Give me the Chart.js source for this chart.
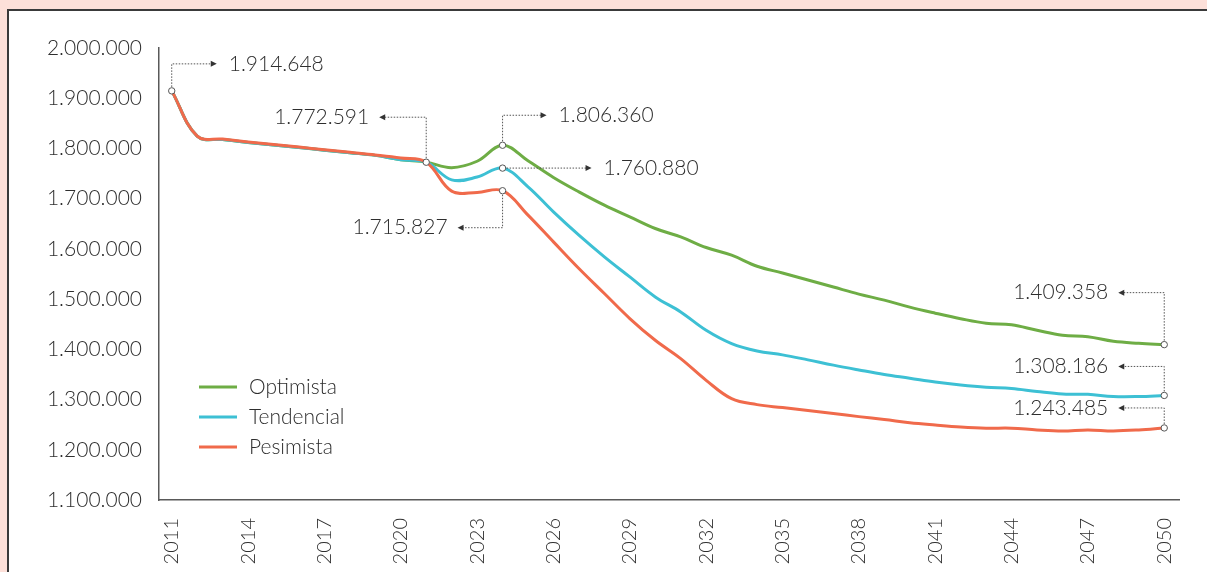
<!DOCTYPE html>
<html>
<head>
<meta charset="utf-8">
<script src="https://cdn.jsdelivr.net/npm/chart.js@4"></script>
<style>
  html, body { margin: 0; padding: 0; background: #fde0d9; overflow: hidden; }
  #panel { position: absolute; left: 7px; top: 9px; width: 1300px; height: 700px;
           background: #ffffff; border-left: 2px solid #3a3a3a; border-top: 2px solid #3a3a3a; }
  #wrap { position: absolute; left: 0; top: 0; width: 1207px; height: 572px; }
</style>
</head>
<body>
<div id="panel"></div>
<div id="wrap"><canvas id="c" width="1207" height="572"></canvas></div>
<script>
const years = [2011,2012,2013,2014,2015,2016,2017,2018,2019,2020,
               2021,2022,2023,2024,2025,2026,2027,2028,2029,2030,
               2031,2032,2033,2034,2035,2036,2037,2038,2039,2040,
               2041,2042,2043,2044,2045,2046,2047,2048,2049,2050];

const optimista = [1914648,1824600,1817600,1812000,1807000,1801800,1796600,1791400,1786200,1777500,
                   1772591,1761800,1774500,1806360,1775400,1742300,1713600,1687100,1663800,1640600,
                   1623900,1602800,1587400,1565500,1552000,1538000,1524000,1510000,1498000,1484000,
                   1472000,1461000,1452000,1449000,1438000,1428000,1425000,1416000,1412000,1409358];

const tendencial = [1914648,1824600,1817600,1812000,1807000,1801800,1796600,1791400,1786200,1777500,
                    1772591,1737500,1743000,1760880,1723600,1673700,1627300,1584100,1544200,1504400,
                    1474500,1438000,1411500,1396700,1389000,1379000,1368500,1359000,1350000,1342600,
                    1335000,1329000,1324500,1322000,1316000,1311000,1310500,1306000,1306000,1308186];

const pesimista = [1914648,1824600,1818600,1813000,1807900,1802700,1797500,1792300,1787100,1781000,
                   1772591,1715000,1712500,1715827,1667200,1613900,1560900,1511100,1461300,1418000,
                   1381500,1338300,1301800,1289900,1284000,1278000,1272300,1266000,1260400,1254000,
                   1249400,1245400,1243000,1243000,1239500,1237500,1239500,1237500,1239500,1243485];

const seriesNames = ['Optimista', 'Tendencial', 'Pesimista'];
const yTicks = [1100000,1200000,1300000,1400000,1500000,1600000,1700000,1800000,1900000,2000000];
const xTickYears = [2011,2014,2017,2020,2023,2026,2029,2032,2035,2038,2041,2044,2047,2050];

const FONT = "Lato, 'Liberation Sans', sans-serif";
const TXT = '#2e2e2e';
const W = 300;

function fmt(v) {
  return String(Math.round(v)).replace(/\B(?=(\d{3})+(?!\d))/g, '.');
}

function toXY(arr) { return arr.map((v, i) => ({ x: years[i], y: v })); }

const marked = {
  0: [2024, 2050],
  1: [2024, 2050],
  2: [2011, 2021, 2024, 2050]
};

const callouts = [
  { ds: 2, year: 2011, dy: -27, dx: 45, side: 'right' },
  { ds: 2, year: 2021, dy: -45, dx: -47, side: 'left' },
  { ds: 0, year: 2024, dy: -30, dx: 44, side: 'right' },
  { ds: 1, year: 2024, dy: 0, dx: 89, side: 'right' },
  { ds: 2, year: 2024, dy: 37, dx: -45, side: 'left' },
  { ds: 0, year: 2050, dy: -52, dx: -46, side: 'left' },
  { ds: 1, year: 2050, dy: -29, dx: -46, side: 'left' },
  { ds: 2, year: 2050, dy: -20, dx: -46, side: 'left' }
];

const calloutPlugin = {
  id: 'callouts',
  afterDatasetsDraw(chart) {
    const ctx = chart.ctx;
    const xs = chart.scales.x, ys = chart.scales.y;
    ctx.save();
    callouts.forEach(c => {
      const ds = chart.data.datasets[c.ds];
      const idx = years.indexOf(c.year);
      const val = ds.data[idx].y;
      const px = xs.getPixelForValue(c.year);
      const py = ys.getPixelForValue(val);
      const ty = py + c.dy;
      const ex = px + c.dx;
      ctx.strokeStyle = '#555555';
      ctx.lineWidth = 1;
      ctx.setLineDash([1.5, 1.5]);
      ctx.beginPath();
      const startY = c.dy === 0 ? py : (c.dy < 0 ? py - 4 : py + 4);
      const startX = c.dy === 0 ? px + (c.dx > 0 ? 4 : -4) : px;
      ctx.moveTo(startX, startY);
      if (c.dy !== 0) ctx.lineTo(px, ty);
      ctx.lineTo(ex - (c.dx > 0 ? 4 : -4), ty);
      ctx.stroke();
      ctx.setLineDash([]);
      ctx.fillStyle = '#333333';
      ctx.beginPath();
      const dir = c.dx > 0 ? 1 : -1;
      ctx.moveTo(ex, ty);
      ctx.lineTo(ex - dir * 6, ty - 3);
      ctx.lineTo(ex - dir * 6, ty + 3);
      ctx.closePath();
      ctx.fill();
      ctx.font = W + ' 21px ' + FONT;
      ctx.fillStyle = TXT;
      ctx.textBaseline = 'middle';
      if (c.side === 'right') {
        ctx.textAlign = 'left';
        ctx.fillText(fmt(val), ex + 12, ty);
      } else {
        ctx.textAlign = 'right';
        ctx.fillText(fmt(val), ex - 10, ty);
      }
    });
    const lx = chart.chartArea.left + 40;
    const ly0 = 387;
    chart.data.datasets.forEach((d, i) => {
      const y = ly0 + i * 30;
      ctx.strokeStyle = d.borderColor;
      ctx.lineWidth = 3;
      ctx.beginPath();
      ctx.moveTo(lx, y);
      ctx.lineTo(lx + 38, y);
      ctx.stroke();
      ctx.font = W + ' 21px ' + FONT;
      ctx.fillStyle = TXT;
      ctx.textAlign = 'left';
      ctx.textBaseline = 'middle';
      ctx.fillText(d.label, lx + 50, y);
    });
    ctx.restore();
  }
};

const colors = ['#6ead45', '#3dc0d4', '#f06a4b'];
const dataArrays = [optimista, tendencial, pesimista];

const datasets = dataArrays.map((arr, i) => ({
  label: seriesNames[i],
  data: toXY(arr),
  borderColor: colors[i],
  borderWidth: 3,
  tension: 0.38,
  fill: false,
  order: 2 - i,
  pointRadius: ctx => (marked[i].includes(years[ctx.dataIndex]) ? 3.2 : 0),
  pointBackgroundColor: '#ffffff',
  pointBorderColor: '#555555',
  pointBorderWidth: 1,
  pointHoverRadius: 0
}));

new Chart(document.getElementById('c'), {
  type: 'line',
  data: { datasets },
  options: {
    responsive: false,
    animation: false,
    events: [],
    layout: { padding: { left: 0, top: 48, right: 28, bottom: 0 } },
    plugins: { legend: { display: false }, tooltip: { enabled: false } },
    scales: {
      x: {
        type: 'linear',
        min: 2010.5,
        max: 2050.58,
        afterBuildTicks: s => { s.ticks = xTickYears.map(v => ({ value: v })); },
        afterFit: s => { s.height = 72; },
        grid: { display: false, drawTicks: false },
        border: { display: true, color: '#595959', width: 1.5 },
        ticks: {
          minRotation: 90, maxRotation: 90, autoSkip: false, padding: 18,
          color: TXT, font: { family: FONT, size: 20, weight: W },
          callback: v => String(v)
        }
      },
      y: {
        min: 1100000,
        max: 2000000,
        afterBuildTicks: s => { s.ticks = yTicks.map(v => ({ value: v })); },
        afterFit: s => { s.width = 159; },
        grid: { display: false, drawTicks: false },
        border: { display: true, color: '#595959', width: 1.5 },
        ticks: {
          padding: 17, color: TXT, font: { family: FONT, size: 21, weight: W },
          callback: v => fmt(v)
        }
      }
    }
  },
  plugins: [calloutPlugin]
});
</script>
</body>
</html>
